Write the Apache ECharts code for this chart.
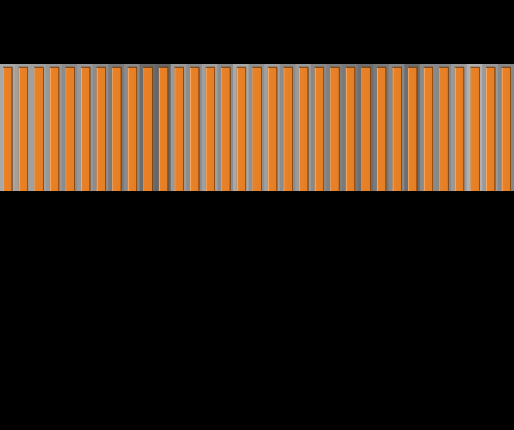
<!DOCTYPE html>
<html>
<head>
<meta charset="utf-8">
<script src="https://cdn.jsdelivr.net/npm/echarts@6/dist/echarts.min.js"></script>
<style>
html,body{margin:0;padding:0;background:#000;}
#chart{width:514px;height:430px;}
</style>
</head>
<body>
<div id="chart"></div>
<script>
var categories = ['1','2','3','4','5','6','7','8','9','10','11','12','13','14','15','16','17','18','19','20','21','22','23','24','25','26','27','28','29','30','31','32','33'];
var barValues = [97,97,97,97,97,97,97,97,97,97,97,97,97,97,97,97,97,97,97,97,97,97,97,97,97,97,97,97,97,97,97,97,97];
var backgroundValues = [100,100,100,100,100,100,100,100,100,100,100,100,100,100,100,100,100,100,100,100,100,100,100,100,100,100,100,100,100,100,100,100,100];
var shadeValues = [168,160,160,152,140,152,140,122,138,108,102,154,140,160,140,168,144,160,140,154,136,128,122,110,122,136,110,138,136,154,176,154,136];

var bgData = categories.map(function (c, i) { return [c, backgroundValues[i], shadeValues[i]]; });

var chart = echarts.init(document.getElementById('chart'), null, {renderer: 'canvas'});
chart.setOption({
  backgroundColor: '#000000',
  animation: false,
  grid: {left: 0, right: 0, top: 64, bottom: 239},
  xAxis: [
    {type: 'category', data: categories, show: false},
    {type: 'category', data: categories, show: false}
  ],
  yAxis: {type: 'value', min: 0, max: 100, show: false},
  visualMap: {
    show: false,
    seriesIndex: 0,
    dimension: 2,
    min: 96,
    max: 176,
    inRange: {color: ['#606060', '#b0b0b0']}
  },
  series: [
    {
      type: 'bar',
      xAxisIndex: 0,
      data: bgData,
      encode: {x: 0, y: 1},
      barWidth: '108%',
      silent: true
    },
    {
      type: 'bar',
      xAxisIndex: 1,
      data: barValues,
      barWidth: '60%',
      itemStyle: {
        color: {
          type: 'linear', x: 0, y: 0, x2: 1, y2: 0,
          colorStops: [
            {offset: 0, color: '#f8b878'},
            {offset: 0.1, color: '#f2a058'},
            {offset: 0.12, color: '#e98128'},
            {offset: 0.88, color: '#e67e24'},
            {offset: 0.9, color: '#a85a18'},
            {offset: 1, color: '#804510'}
          ]
        },
        shadowColor: 'rgba(90,45,8,0.85)',
        shadowOffsetX: 0,
        shadowOffsetY: -1,
        shadowBlur: 0
      }
    }
  ]
});
</script>
</body>
</html>
